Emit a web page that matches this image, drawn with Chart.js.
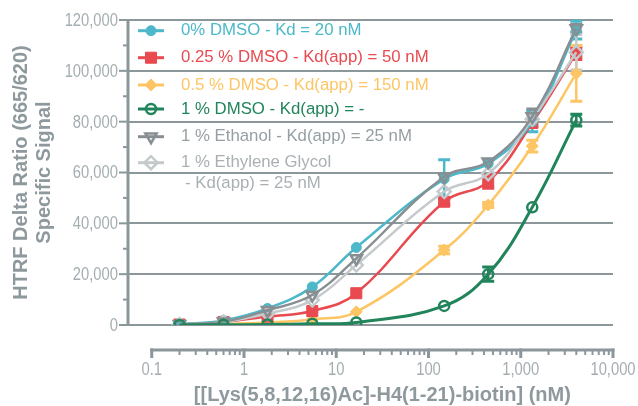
<!DOCTYPE html>
<html>
<head>
<meta charset="utf-8">
<title>HTRF binding curves</title>
<script src="https://cdn.jsdelivr.net/npm/chart.js"></script>
<style>
    html, body { margin: 0; padding: 0; background: #fff; }
    #wrap { position: relative; width: 638px; height: 406px; }
</style>
</head>
<body>
<div id="wrap"><canvas id="myChart"></canvas></div>
<script>
// peptide concentration (nM)
var conc = [0.2, 0.6, 1.8, 5.5, 16.5, 148, 444, 1333, 4000];

// specific signal per condition
var dmso0 = [300, 1800, 6500, 15000, 30500, 57500, 63500, 80000, 116000];
var dmso025 = [200, 1200, 3300, 5500, 12500, 48500, 56400, 79500, 107000];
var dmso05 = [100, 500, 1000, 2200, 5200, 29500, 47200, 70400, 99000];
var dmso1 = [0, 100, 200, 500, 1000, 7500, 20000, 46300, 80600];
var ethanol1 = [300, 1300, 5800, 11800, 26200, 58300, 64200, 82000, 116700];
var glycol1 = [200, 1200, 4500, 9800, 23600, 52500, 59500, 81000, 107300];

// error bars (+/-)
var dmso0Err = [0, 0, 0, 0, 0, 7500, 0, 4000, 3500];
var dmso025Err = [0, 0, 0, 0, 0, 1300, 2600, 1500, 2500];
var dmso05Err = [0, 0, 0, 0, 0, 1500, 1000, 2300, 11000];
var dmso1Err = [0, 0, 0, 0, 0, 0, 2800, 0, 2300];
var ethanol1Err = [0, 0, 0, 0, 0, 0, 0, 3000, 1500];
var glycol1Err = [0, 0, 0, 0, 0, 0, 0, 0, 7000];

var labels = [
    "0% DMSO - Kd = 20 nM",
    "0.25 % DMSO - Kd(app) = 50 nM",
    "0.5 % DMSO - Kd(app) = 150 nM",
    "1 % DMSO - Kd(app) = -",
    "1 % Ethanol - Kd(app) = 25 nM",
    "1 % Ethylene Glycol"
];
var glycolLine2 = "- Kd(app) = 25 nM";

var xTicks = [0.1, 1, 10, 100, 1000, 10000];
var yTicks = [0, 20000, 40000, 60000, 80000, 100000, 120000];

var axisColor = "#8b979b";
var tickColor = "#a4adb0";
var titleColor = "#8e999d";
var sans = "'Liberation Sans', Arial, sans-serif";

function pairs(vals) {
    return conc.map(function (c, i) {
        return { x: c, y: vals[i] };
    });
}

function fmt(v) {
    return v >= 1000 ? v.toLocaleString("en-US") : String(v);
}

// narrow-looking tick text (no condensed font installed)
function narrowText(ctx, text, x, y, align) {
    ctx.save();
    ctx.translate(x, y);
    ctx.scale(0.82, 1);
    ctx.textAlign = align;
    ctx.fillText(text, 0, 0);
    ctx.restore();
}

function series(label, vals, err, color, textColor, style, radius, rot, hollow, order) {
    return {
        label: label,
        data: pairs(vals),
        err: err,
        textColor: textColor,
        borderColor: color,
        backgroundColor: color,
        borderWidth: 2.5,
        tension: 0.4,
        pointStyle: style,
        pointRadius: radius,
        pointRotation: rot,
        pointBackgroundColor: hollow ? "rgba(255,255,255,0)" : color,
        pointBorderColor: color,
        pointBorderWidth: hollow ? 2.5 : 1,
        order: order
    };
}

var datasets = [
    series(labels[0], dmso0, dmso0Err, "#4cb8c9", "#4cb8c9", "circle", 5, 0, false, 3),
    series(labels[1], dmso025, dmso025Err, "#e84a4f", "#e84a4f", "rect", 7.8, 0, false, 4),
    series(labels[2], dmso05, dmso05Err, "#fdc563", "#fdc563", "rectRot", 6, 0, false, 5),
    series(labels[3], dmso1, dmso1Err, "#21845a", "#21845a", "circle", 5, 0, true, 0),
    series(labels[4], ethanol1, ethanol1Err, "#878f93", "#959fa3", "triangle", 6.5, 180, true, 1),
    series(labels[5], glycol1, glycol1Err, "#c4cacc", "#a9b0b3", "rectRot", 6.5, 0, true, 2)
];
datasets[3].borderWidth = 3;

/** error bars under the markers */
var errorBars = {
    id: "errorBars",
    beforeDatasetsDraw: function (chart) {
        var ctx = chart.ctx;
        var xs = chart.scales.x;
        var ys = chart.scales.y;
        ctx.save();
        chart.data.datasets.forEach(function (ds) {
            ds.data.forEach(function (p, i) {
                var e = ds.err[i];
                if (!e) return;
                var px = xs.getPixelForValue(p.x);
                var top = ys.getPixelForValue(p.y + e);
                var bot = ys.getPixelForValue(p.y - e);
                ctx.strokeStyle = ds.borderColor;
                ctx.lineWidth = 2.5;
                ctx.beginPath();
                ctx.moveTo(px, top);
                ctx.lineTo(px, bot);
                ctx.stroke();
                ctx.lineWidth = 3;
                ctx.beginPath();
                ctx.moveTo(px - 6, top);
                ctx.lineTo(px + 6, top);
                ctx.moveTo(px - 6, bot);
                ctx.lineTo(px + 6, bot);
                ctx.stroke();
            });
        });
        ctx.restore();
    }
};

/** axis lines, tick marks, tick labels, x title */
var axes = {
    id: "axes",
    beforeDatasetsDraw: function (chart) {
        var ctx = chart.ctx;
        var xs = chart.scales.x;
        var ys = chart.scales.y;
        var area = chart.chartArea;
        ctx.save();
        ctx.strokeStyle = axisColor;

        // y axis
        var ax = area.left;
        ctx.lineWidth = 3;
        ctx.beginPath();
        ctx.moveTo(ax, ys.getPixelForValue(120000) - 1);
        ctx.lineTo(ax, ys.getPixelForValue(0) + 1);
        ctx.stroke();
        for (var v = 0; v <= 120000; v += 10000) {
            var py = ys.getPixelForValue(v);
            var len = v % 20000 === 0 ? 9 : 5;
            ctx.lineWidth = 2;
            ctx.beginPath();
            ctx.moveTo(ax - len, py);
            ctx.lineTo(ax, py);
            ctx.stroke();
        }

        // x axis, detached below the plot
        var ay = 350;
        var x0 = xs.getPixelForValue(xTicks[0]);
        var x1 = xs.getPixelForValue(xTicks[xTicks.length - 1]);
        ctx.lineWidth = 3;
        ctx.beginPath();
        ctx.moveTo(x0 - 1.5, ay);
        ctx.lineTo(x1 + 1.5, ay);
        ctx.stroke();
        for (var d = 0; d < xTicks.length; d++) {
            var base = xTicks[d];
            var px = xs.getPixelForValue(base);
            ctx.lineWidth = 3;
            ctx.beginPath();
            ctx.moveTo(px, ay - 1.5);
            ctx.lineTo(px, ay + 8);
            ctx.stroke();
            if (d === xTicks.length - 1) break;
            for (var m = 2; m <= 9; m++) {
                var mx = xs.getPixelForValue(base * m);
                ctx.lineWidth = 2;
                ctx.beginPath();
                ctx.moveTo(mx, ay);
                ctx.lineTo(mx, ay + 5);
                ctx.stroke();
            }
        }

        // tick labels
        ctx.fillStyle = tickColor;
        ctx.font = "18px " + sans;
        ctx.textBaseline = "middle";
        yTicks.forEach(function (t) {
            narrowText(ctx, fmt(t), ax - 10, ys.getPixelForValue(t) + 1, "right");
        });
        xTicks.forEach(function (t) {
            narrowText(ctx, fmt(t), xs.getPixelForValue(t), 370, "center");
        });

        ctx.fillStyle = titleColor;
        ctx.font = "bold 20px " + sans;
        ctx.textAlign = "center";
        ctx.textBaseline = "middle";
        ctx.fillText("[[Lys(5,8,12,16)Ac]-H4(1-21)-biotin] (nM)", (x0 + x1) / 2, 395);
        ctx.restore();
    }
};

/** legend inside the plot, line + marker + coloured text */
var legendBox = {
    id: "legendBox",
    afterDatasetsDraw: function (chart) {
        var ctx = chart.ctx;
        var rows = [30.7, 57.7, 85, 109, 136.7, 162.7];
        ctx.save();
        ctx.font = "16.8px " + sans;
        ctx.textAlign = "left";
        ctx.textBaseline = "middle";
        chart.data.datasets.forEach(function (ds, i) {
            var y = rows[i];
            ctx.strokeStyle = ds.borderColor;
            ctx.lineWidth = 3;
            ctx.beginPath();
            ctx.moveTo(138, y);
            ctx.lineTo(164, y);
            ctx.stroke();
            ctx.fillStyle = ds.pointBackgroundColor;
            ctx.lineWidth = ds.pointBorderWidth;
            if (Chart.helpers && Chart.helpers.drawPoint) {
                Chart.helpers.drawPoint(ctx, {
                    pointStyle: ds.pointStyle,
                    radius: ds.pointRadius,
                    rotation: ds.pointRotation,
                    borderWidth: ds.pointBorderWidth
                }, 151, y);
            }
            ctx.fillStyle = ds.textColor;
            ctx.fillText(ds.label, 181, y);
        });
        ctx.fillStyle = datasets[5].textColor;
        ctx.fillText(glycolLine2, 185, 183.3);
        ctx.restore();
    }
};

var ctx = document.getElementById("myChart");
var myChart = new Chart(ctx, {
    type: "line",
    data: { datasets: datasets },
    options: {
        responsive: true,
        maintainAspectRatio: false,
        animation: false,
        events: [],
        layout: { padding: { left: 0, right: 25, top: 20, bottom: 0 } },
        plugins: {
            legend: { display: false },
            tooltip: { enabled: false }
        },
        scales: {
            x: {
                type: "logarithmic",
                bounds: "data",
                min: 0.0553,
                max: 10000,
                afterBuildTicks: function (scale) {
                    scale.ticks = xTicks.map(function (v) {
                        return { value: v, major: true };
                    });
                },
                afterFit: function (scale) {
                    scale.height = 81;
                    scale.paddingLeft = 0;
                    scale.paddingRight = 0;
                },
                grid: { display: false, drawTicks: false },
                border: { display: false },
                ticks: { display: false }
            },
            y: {
                type: "linear",
                min: 0,
                max: 120000,
                afterBuildTicks: function (scale) {
                    scale.ticks = yTicks.map(function (v) {
                        return { value: v };
                    });
                },
                afterFit: function (scale) {
                    scale.width = 128;
                },
                grid: { color: axisColor, lineWidth: 2, drawTicks: false },
                border: { display: false },
                ticks: { display: false },
                title: {
                    display: true,
                    text: ["HTRF Delta Ratio (665/620)", "Specific Signal"],
                    color: titleColor,
                    font: { family: sans, size: 20, weight: "bold", lineHeight: 1.165 },
                    padding: { top: 10, bottom: 0 }
                }
            }
        }
    },
    plugins: [errorBars, axes, legendBox]
});
</script>
</body>
</html>
